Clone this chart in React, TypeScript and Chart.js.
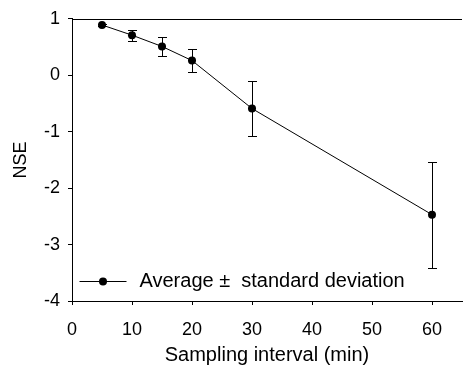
import React, { useEffect, useRef } from "react";
import { Chart, registerables } from "chart.js";
Chart.register(...registerables);

const intervals = [5, 10, 15, 20, 30, 60];
const nseMean = [0.89, 0.71, 0.51, 0.26, -0.59, -2.47];
const nseSd = [0.02, 0.1, 0.17, 0.2, 0.49, 0.94];
const xTickValues = [0, 10, 20, 30, 40, 50, 60];
const yTickValues = [-4, -3, -2, -1, 0, 1];
const legendLabel = "Average \u00b1  standard deviation";
const xTitle = "Sampling interval (min)";
const yTitle = "NSE";

const FONT = "'Liberation Sans', Arial, sans-serif";

const errorBars = {
  id: "errorBars",
  beforeDatasetsDraw(chart: any) {
    const ctx = chart.ctx;
    const xs = chart.scales.x;
    const ys = chart.scales.y;
    ctx.save();
    ctx.strokeStyle = "#000";
    ctx.lineWidth = 1;
    intervals.forEach((xv, i) => {
      const px = Math.round(xs.getPixelForValue(xv)) + 0.5;
      const top = Math.round(ys.getPixelForValue(nseMean[i] + nseSd[i])) + 0.5;
      const bot = Math.round(ys.getPixelForValue(nseMean[i] - nseSd[i])) + 0.5;
      ctx.beginPath();
      ctx.moveTo(px, top);
      ctx.lineTo(px, bot);
      ctx.moveTo(px - 4.5, top);
      ctx.lineTo(px + 4.5, top);
      ctx.moveTo(px - 4.5, bot);
      ctx.lineTo(px + 4.5, bot);
      ctx.stroke();
    });
    ctx.restore();
  },
};

const frameAndLegend = {
  id: "frameAndLegend",
  afterDraw(chart: any) {
    const ctx = chart.ctx;
    const { left, right, top, bottom } = chart.chartArea;
    ctx.save();
    ctx.strokeStyle = "#000";
    ctx.lineWidth = 1;
    ctx.beginPath();
    ctx.moveTo(left, Math.round(top) + 0.5);
    ctx.lineTo(right, Math.round(top) + 0.5);
    ctx.stroke();
    // legend
    const ly = Math.round(bottom - 20) + 0.5;
    const lx0 = left + 7.5;
    const lx1 = left + 54.5;
    ctx.beginPath();
    ctx.moveTo(lx0, ly);
    ctx.lineTo(lx1, ly);
    ctx.stroke();
    ctx.beginPath();
    ctx.fillStyle = "#000";
    ctx.arc((lx0 + lx1) / 2, ly, 4, 0, Math.PI * 2);
    ctx.fill();
    ctx.font = `20px ${FONT}`;
    ctx.textBaseline = "middle";
    ctx.textAlign = "left";
    ctx.fillText(legendLabel, left + 67.5, ly);
    ctx.restore();
  },
};

export default function App() {
  const ref = useRef<HTMLCanvasElement>(null);
  useEffect(() => {
    if (!ref.current) return;
    const chart = new Chart(ref.current, {
      type: "line",
      data: {
        datasets: [
          {
            label: legendLabel,
            data: intervals.map((x, i) => ({ x, y: nseMean[i] })),
            borderColor: "#000",
            backgroundColor: "#000",
            borderWidth: 1,
            pointRadius: 4,
            pointBackgroundColor: "#000",
            pointBorderColor: "#000",
            pointBorderWidth: 0,
            tension: 0,
            fill: false,
          },
        ],
      },
      options: {
        responsive: false,
        animation: false,
        devicePixelRatio: 1,
        layout: { padding: { top: 18, left: 0, right: 0, bottom: 0 } },
        plugins: { legend: { display: false }, tooltip: { enabled: false } },
        scales: {
          x: {
            type: "linear",
            position: "bottom",
            min: 0,
            max: 65,
            afterBuildTicks: (s: any) => {
              s.ticks = xTickValues.map((v) => ({ value: v }));
            },
            afterFit: (s: any) => {
              s.height = 70;
            },
            grid: { drawOnChartArea: false, drawTicks: true, tickLength: 4, color: "#000" },
            border: { display: true, color: "#000", width: 1 },
            ticks: { font: { size: 18, family: FONT }, color: "#000", padding: 14, maxRotation: 0 },
            title: {
              display: true,
              text: xTitle,
              color: "#000",
              font: { size: 20, family: FONT },
              padding: { top: 0, bottom: 4 },
            },
          },
          y: {
            type: "linear",
            min: -4,
            max: 1,
            afterBuildTicks: (s: any) => {
              s.ticks = yTickValues.map((v) => ({ value: v }));
            },
            afterFit: (s: any) => {
              s.width = 72;
            },
            grid: { drawOnChartArea: false, drawTicks: true, tickLength: 4, color: "#000" },
            border: { display: true, color: "#000", width: 1 },
            ticks: { font: { size: 18, family: FONT }, color: "#000", padding: 8 },
            title: {
              display: true,
              text: yTitle,
              color: "#000",
              font: { size: 18, family: FONT },
              padding: { top: 10, bottom: 0 },
            },
          },
        },
      },
      plugins: [errorBars, frameAndLegend],
    });
    return () => chart.destroy();
  }, []);
  return (
    <div style={{ position: "fixed", left: 0, top: 0, width: 465, height: 371, overflow: "hidden", background: "#fff" }}>
      <canvas ref={ref} width={466} height={371} style={{ display: "block", width: 466, height: 371 }} />
    </div>
  );
}
